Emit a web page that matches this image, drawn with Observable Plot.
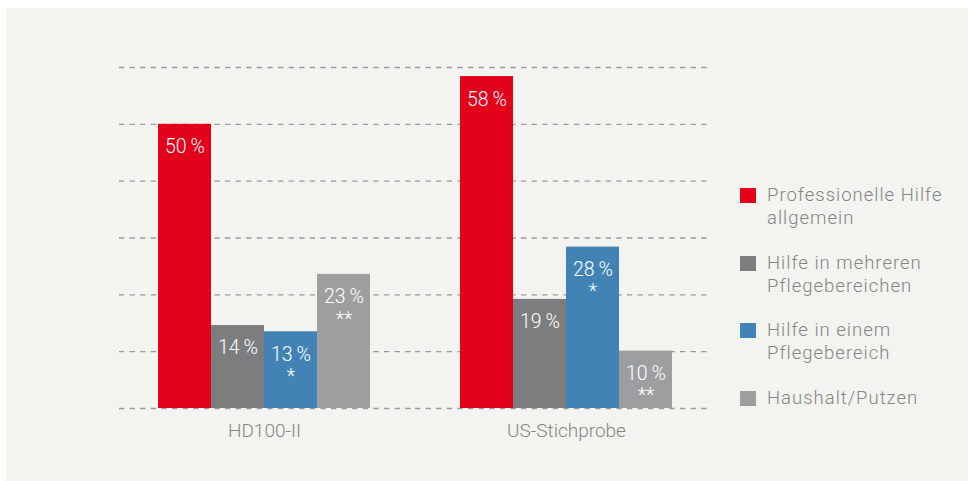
<!DOCTYPE html>
<html>
<head>
<meta charset="utf-8">
<script src="https://cdn.jsdelivr.net/npm/d3@7"></script>
<script src="https://cdn.jsdelivr.net/npm/@observablehq/plot@0.6"></script>
<style>
  html, body { margin: 0; padding: 0; background: #ffffff; width: 968px; height: 481px; overflow: hidden; }
  #panel { position: absolute; left: 6px; top: 8px; right: 0; bottom: 0; background: #f3f3ef; }
  #chart { position: absolute; left: 0; top: 0; }
  #legend { position: absolute; left: 740px; top: 184px; font-family: Roboto, sans-serif; font-weight: 300; font-size: 18.5px; line-height: 23px; color: #858585; letter-spacing: 1px; }
  .item { position: absolute; left: 0; width: 228px; }
  .sw { position: absolute; left: 0; top: 4px; width: 16px; height: 15px; }
  .lab { position: absolute; left: 27px; top: 0; white-space: nowrap; }
</style>
</head>
<body>
<div id="panel"></div>
<div id="chart"></div>
<div id="legend"></div>
<script>
const groups = ["HD100-II", "US-Stichprobe"];
const series = ["Professionelle Hilfe allgemein", "Hilfe in mehreren Pflegebereichen", "Hilfe in einem Pflegebereich", "Haushalt/Putzen"];
const legendLines = [["Professionelle Hilfe", "allgemein"], ["Hilfe in mehreren", "Pflegebereichen"], ["Hilfe in einem", "Pflegebereich"], ["Haushalt/Putzen"]];
const colors = ["#e3001b", "#7c7d7f", "#4183b5", "#9d9ea0"];
const hdValues = [50, 14.6, 13.5, 23.6];
const usValues = [58.4, 19.2, 28.4, 10.1];
const hdLabels = ["50 %", "14 %", "13 %\n*", "23 %\n**"];
const usLabels = ["58 %", "19 %", "28 %\n*", "10 %\n**"];
const yTicks = [0, 10, 20, 30, 40, 50, 60];

const data = [];
series.forEach((s, i) => {
  data.push({group: groups[0], series: s, value: hdValues[i], label: hdLabels[i].replace(" ", "\u2009")});
  data.push({group: groups[1], series: s, value: usValues[i], label: usLabels[i].replace(" ", "\u2009")});
});
const gridHD = yTicks.map(t => ({group: groups[0], y: t}));
const gridUS = yTicks.map(t => ({group: groups[1], y: t}));

const gridStyle = {stroke: "#9a9a9a", strokeWidth: 1.3, strokeDasharray: "5.3,5.3"};

const chart = Plot.plot({
  width: 968,
  height: 481,
  marginTop: 67,
  marginBottom: 73,
  marginLeft: 113,
  marginRight: 251,
  style: {background: "transparent", fontFamily: "Roboto, sans-serif"},
  fx: {domain: groups, padding: 0, label: null},
  x: {domain: series, paddingInner: 0, paddingOuter: 0.849, axis: null},
  y: {domain: [0, 60], axis: null},
  color: {domain: series, range: colors},
  marks: [
    Plot.ruleY(gridHD, {fx: "group", y: "y", insetLeft: 6, ...gridStyle}),
    Plot.ruleY(gridUS, {fx: "group", y: "y", insetRight: 6, ...gridStyle}),
    Plot.barY(data, {fx: "group", x: "series", y: "value", fill: "series"}),
    Plot.text(data, {fx: "group", x: "series", y: "value", text: "label", fill: "white", lineAnchor: "top", dy: 13, fontSize: 19.5, fontWeight: 300, lineHeight: 1.15, style: "letter-spacing:0.8px"}),
    Plot.axisFx({anchor: "bottom", tickSize: 0, tickPadding: 15, fontSize: 19, fontWeight: 300, color: "#858585", label: null, style: "letter-spacing:1.6px"})
  ]
});
document.getElementById("chart").appendChild(chart);

const legend = document.getElementById("legend");
legendLines.forEach((lines, i) => {
  const item = document.createElement("div");
  item.className = "item";
  item.style.top = (i * 67.5) + "px";
  const sw = document.createElement("div");
  sw.className = "sw";
  sw.style.background = colors[i];
  const lab = document.createElement("div");
  lab.className = "lab";
  lab.innerHTML = lines.join("<br>");
  item.appendChild(sw);
  item.appendChild(lab);
  legend.appendChild(item);
});
</script>
</body>
</html>
